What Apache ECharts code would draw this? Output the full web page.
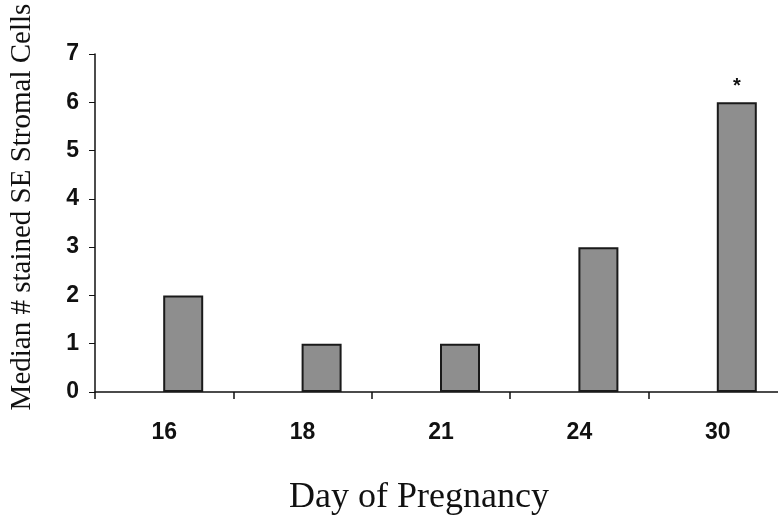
<!DOCTYPE html>
<html>
<head>
<meta charset="utf-8">
<script src="https://cdn.jsdelivr.net/npm/echarts@6/dist/echarts.min.js"></script>
<style>html,body{margin:0;padding:0;background:#fff}#c{width:778px;height:517px}</style>
</head>
<body>
<div id="c"></div>
<script>
var categories = ['16', '18', '21', '24', '30'];
var medianCells = [2, 1, 1, 3, 6];
var significance = ['', '', '', '', '*'];
var yTicks = [0, 1, 2, 3, 4, 5, 6, 7];
var yTitle = 'Median # stained SE Stromal Cells';
var xTitle = 'Day of Pregnancy';

var chart = echarts.init(document.getElementById('c'), null, {renderer: 'canvas'});
var gridTop = 54, gridH = 338, bandW = 138.4;
var option = {
  backgroundColor: '#ffffff',
  animation: false,
  title: {
    text: xTitle,
    left: 284, top: 475,
    textStyle: {fontFamily: 'Liberation Serif', fontSize: 36, fontWeight: 'normal', color: '#111'}
  },
  graphic: [{
    type: 'text', x: 22, y: 207, rotation: Math.PI / 2,
    style: {text: yTitle, align: 'center', verticalAlign: 'middle',
      font: '29px "Liberation Serif"', fill: '#111'}
  }],
  grid: [
    {left: 95, top: gridTop, width: bandW * 5, height: gridH, outerBoundsMode: 'none', containLabel: false},
    {left: 114, top: gridTop, width: bandW * 5, height: gridH, outerBoundsMode: 'none', containLabel: false}
  ],
  xAxis: [
    {
      gridIndex: 0, type: 'category', data: categories, boundaryGap: true,
      axisLine: {lineStyle: {color: '#111', width: 1.5}},
      axisTick: {show: true, length: 7, inside: false, lineStyle: {color: '#111', width: 1.5}},
      axisLabel: {margin: 29, fontFamily: 'Liberation Sans', fontSize: 23, color: '#111', fontWeight: 'bold'},
      splitLine: {show: false}
    },
    {
      gridIndex: 1, type: 'category', data: categories, boundaryGap: true,
      axisLine: {show: false}, axisTick: {show: false}, axisLabel: {show: false}, splitLine: {show: false}
    }
  ],
  yAxis: [
    {
      gridIndex: 0, type: 'value', min: yTicks[0], max: yTicks[yTicks.length - 1], interval: 1,
      axisLine: {show: true, lineStyle: {color: '#111', width: 1.5}},
      axisTick: {show: true, length: 6, lineStyle: {color: '#111', width: 1}},
      axisLabel: {margin: 16, fontFamily: 'Liberation Sans', fontSize: 23, color: '#111', fontWeight: 'bold'},
      splitLine: {show: false}
    },
    {
      gridIndex: 1, type: 'value', min: yTicks[0], max: yTicks[yTicks.length - 1], interval: 1,
      show: false, splitLine: {show: false}
    }
  ],
  series: [{
    type: 'bar', xAxisIndex: 1, yAxisIndex: 1,
    data: medianCells, barWidth: 40,
    itemStyle: {color: '#8e8e8e', borderColor: '#1a1a1a', borderWidth: 2},
    label: {
      show: true, position: 'top', distance: 6,
      formatter: function (p) { return significance[p.dataIndex]; },
      fontFamily: 'Liberation Sans', fontSize: 20, fontWeight: 'bold', color: '#111'
    }
  }]
};
chart.setOption(option);
</script>
</body>
</html>
